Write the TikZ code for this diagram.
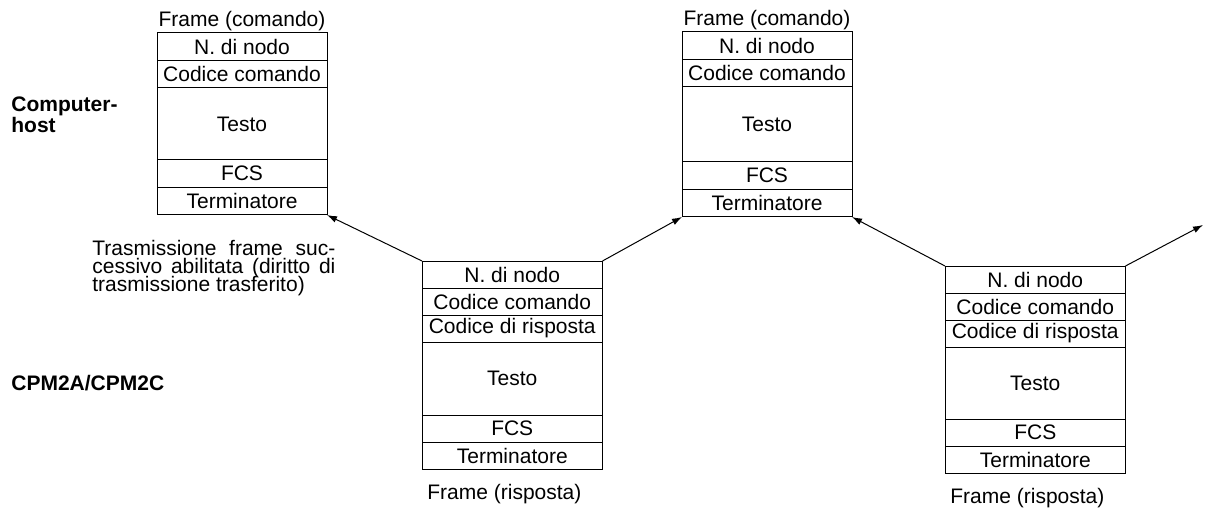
\documentclass[tikz,border=0pt]{standalone}
\usepackage{fontspec}
\setmainfont{Liberation Sans}
\usetikzlibrary{arrows.meta, positioning}
\lineskiplimit=-20pt

\begin{document}
\begin{tikzpicture}[
    x=0.5pt, y=-0.5pt,
    field/.style={rectangle, draw, inner sep=0pt, outer sep=0pt, line width=0.5pt, font=\fontsize{10.5pt}{12pt}\selectfont},
    cmdfield/.style={field, minimum width=85pt, minimum height=13.75pt},
    rspfield/.style={field, minimum width=90.25pt, minimum height=13.5pt},
    caption/.style={inner sep=0pt, font=\fontsize{10.5pt}{12pt}\selectfont},
    side/.style={inner sep=0pt, align=left, font=\fontsize{10.5pt}{10.5pt}\selectfont\bfseries},
    note/.style={inner sep=0pt, align=left, font=\fontsize{10.5pt}{8.9pt}\selectfont},
    arrow/.style={-{Latex[length=5pt, width=3.4pt]}, line width=0.5pt}
]
\useasboundingbox (0,0) rectangle (1206,508);

% === Side labels ===
\node[side, anchor=north west] (host) at (11,96) {Computer-\\host};
\node[side, anchor=base west] (plc) at (11,390) {CPM2A/CPM2C};
\node[note, anchor=north west] (token) at (92,240) {\hbox to 121.5pt{Trasmissione frame suc-}\\ \hbox to 121.5pt{cessivo abilitata (diritto di}\\ trasmissione trasferito)};

% === Frame (comando), first ===
\node[cmdfield, anchor=north west] (cmdA_nodo) at (157,33) {N. di nodo};
\node[cmdfield, below=0pt of cmdA_nodo] (cmdA_cod) {Codice comando};
\node[cmdfield, below=0pt of cmdA_cod, minimum height=36pt] (cmdA_testo) {Testo};
\node[cmdfield, below=0pt of cmdA_testo] (cmdA_fcs) {FCS};
\node[cmdfield, below=0pt of cmdA_fcs] (cmdA_term) {Terminatore};
\node[caption, above=1pt of cmdA_nodo] (cmdA_cap) {Frame (comando)};

% === Frame (risposta), first ===
\node[rspfield, anchor=north west] (rspA_nodo) at (422,261) {N. di nodo};
\node[rspfield, below=0pt of rspA_nodo] (rspA_cod) {Codice comando};
\node[rspfield, below=0pt of rspA_cod] (rspA_risp) {Codice di risposta};
\node[rspfield, below=0pt of rspA_risp, minimum height=36.5pt] (rspA_testo) {Testo};
\node[rspfield, below=0pt of rspA_testo] (rspA_fcs) {FCS};
\node[rspfield, below=0pt of rspA_fcs] (rspA_term) {Terminatore};
\node[caption, below right=7.5pt and 2.5pt of rspA_term.south west] (rspA_cap) {Frame (risposta)};

% === Frame (comando), second ===
\node[cmdfield, anchor=north west] (cmdB_nodo) at (682,32) {N. di nodo};
\node[cmdfield, below=0pt of cmdB_nodo] (cmdB_cod) {Codice comando};
\node[cmdfield, below=0pt of cmdB_cod, minimum height=37.5pt] (cmdB_testo) {Testo};
\node[cmdfield, below=0pt of cmdB_testo] (cmdB_fcs) {FCS};
\node[cmdfield, below=0pt of cmdB_fcs] (cmdB_term) {Terminatore};
\node[caption, above=1pt of cmdB_nodo] (cmdB_cap) {Frame (comando)};

% === Frame (risposta), second ===
\node[rspfield, anchor=north west] (rspB_nodo) at (945,266) {N. di nodo};
\node[rspfield, below=0pt of rspB_nodo] (rspB_cod) {Codice comando};
\node[rspfield, below=0pt of rspB_cod] (rspB_risp) {Codice di risposta};
\node[rspfield, below=0pt of rspB_risp, minimum height=36pt] (rspB_testo) {Testo};
\node[rspfield, below=0pt of rspB_testo] (rspB_fcs) {FCS};
\node[rspfield, below=0pt of rspB_fcs] (rspB_term) {Terminatore};
\node[caption, below right=7.5pt and 2.5pt of rspB_term.south west] (rspB_cap) {Frame (risposta)};

\coordinate (next) at (1203,225);

% === Arrows ===
\draw[arrow] (rspA_nodo.north west) -- (cmdA_term.south east);
\draw[arrow] (rspA_nodo.north east) -- (cmdB_term.south west);
\draw[arrow] (rspB_nodo.north west) -- (cmdB_term.south east);
\draw[arrow] (rspB_nodo.north east) -- (next);

\end{tikzpicture}
\end{document}
